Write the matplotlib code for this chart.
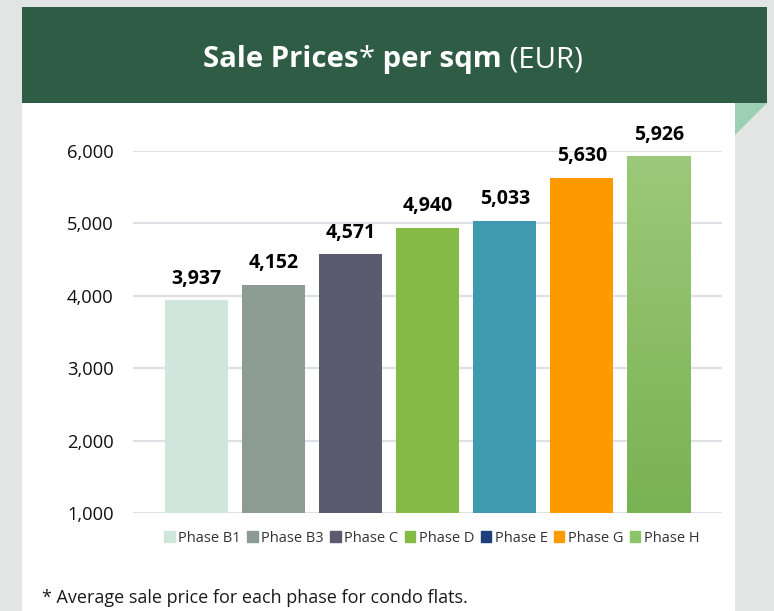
import matplotlib
matplotlib.use('Agg')
import matplotlib.pyplot as plt
import matplotlib.patches as mpatches
import numpy as np

# Data
PHASES = ['Phase B1', 'Phase B3', 'Phase C', 'Phase D', 'Phase E', 'Phase G', 'Phase H']
PRICES = [3937, 4152, 4571, 4940, 5033, 5630, 5926]
BAR_COLORS = ['#cfe6dc', '#8c9b94', '#5b5b70', '#84bb47', '#3f9ab0', '#ff9900', '#8cc46a']
LEGEND_COLORS = ['#cfe6dc', '#8c9b94', '#5b5b70', '#84bb47', '#1f3f7a', '#ff9900', '#8cc46a']
Y_TICKS = [1000, 2000, 3000, 4000, 5000, 6000]

HEADER = '#2e5c45'
TRIANGLE = '#9dcfb2'
W, H = 774, 611

plt.rcParams['font.family'] = ['Open Sans', 'DejaVu Sans']

fig = plt.figure(figsize=(W / 100, H / 100), dpi=100)
fig.patch.set_facecolor('#e3e4e4')


def fx(px):
    return px / W


def fy(py):
    return 1 - py / H


# white panel and header band
fig.patches.append(mpatches.Rectangle((fx(22), 0), fx(735 - 22), fy(103), transform=fig.transFigure,
                                      facecolor='white', edgecolor='none', zorder=0))
fig.patches.append(mpatches.Rectangle((fx(22), fy(103)), fx(767 - 22), (103 - 7) / H,
                                      transform=fig.transFigure, facecolor=HEADER,
                                      edgecolor='none', zorder=1))
fig.patches.append(mpatches.Polygon([(fx(735), fy(103)), (fx(767), fy(103)), (fx(735), fy(135))],
                                    closed=True, transform=fig.transFigure,
                                    facecolor=TRIANGLE, edgecolor='none', zorder=1))

# title, built piece by piece (bold / regular)
pieces = [('Sale Prices', 'bold'), ('*', 'normal'), (' per sqm', 'bold'), (' (EUR)', 'normal')]
renderer = fig.canvas.get_renderer()
title_size = 21.2
texts = []
for s, wt in pieces:
    t = fig.text(0, fy(67), s, fontsize=title_size, fontweight=wt, color='white',
                 va='baseline', ha='left', zorder=3)
    texts.append(t)
widths = [t.get_window_extent(renderer).width for t in texts]
total = sum(widths)
x0 = (203 + 583) / 2 - total / 2
for t, w in zip(texts, widths):
    t.set_x(fx(x0))
    x0 += w

# axes
ax = fig.add_axes([fx(133), fy(513), fx(722 - 133), (513 - 151) / H], zorder=5)
ax.set_facecolor('none')
x = np.arange(len(PHASES))
bars = ax.bar(x, PRICES, width=0.82, color=BAR_COLORS, edgecolor='none', zorder=2)

# gradient on Phase H (lighter at top)
hb = bars[-1]
grad = np.linspace(0, 1, 100).reshape(-1, 1)
cmap = matplotlib.colors.LinearSegmentedColormap.from_list('g', ['#79b253', '#9cc979'])
bx, bw = hb.get_x(), hb.get_width()
im = ax.imshow(grad, cmap=cmap, aspect='auto', extent=[bx, bx + bw, 1000, PRICES[-1]],
               zorder=2.5, origin='lower')
im.set_clip_path(hb)

for xi, v in zip(x, PRICES):
    ax.annotate(f'{v:,}', (xi, v), xytext=(0, 12), textcoords='offset points',
                ha='center', va='baseline', fontsize=14, fontweight='bold',
                color='black', annotation_clip=False)

ax.set_ylim(1000, 6000)
ax.set_xlim(-0.825, 6.82)
ax.set_yticks(Y_TICKS)
ax.set_yticklabels([f'{v:,}' for v in Y_TICKS], fontsize=13.2, color='#111111')
ax.set_xticks([])
ax.tick_params(axis='y', length=0, pad=14)
ax.grid(True, axis='y', color='#dde1e6', linewidth=1.6, zorder=0)
ax.set_axisbelow(True)
for sp in ax.spines.values():
    sp.set_visible(False)

# legend
handles = [mpatches.Patch(color=c, label=p) for c, p in zip(LEGEND_COLORS, PHASES)]
fig.legend(handles=handles, loc='center', ncol=7, bbox_to_anchor=(fx(432), fy(538)),
           frameon=False, fontsize=10.5, handlelength=0.7, handleheight=0.7,
           handletextpad=0.25, columnspacing=0.45, labelcolor='#333333')

# footnote
fig.text(fx(42), fy(603), '* Average sale price for each phase for condo flats.',
         fontsize=13, color='#1a1a1a', va='baseline', ha='left')

fig.savefig('out.png', dpi=100, facecolor=fig.get_facecolor())
